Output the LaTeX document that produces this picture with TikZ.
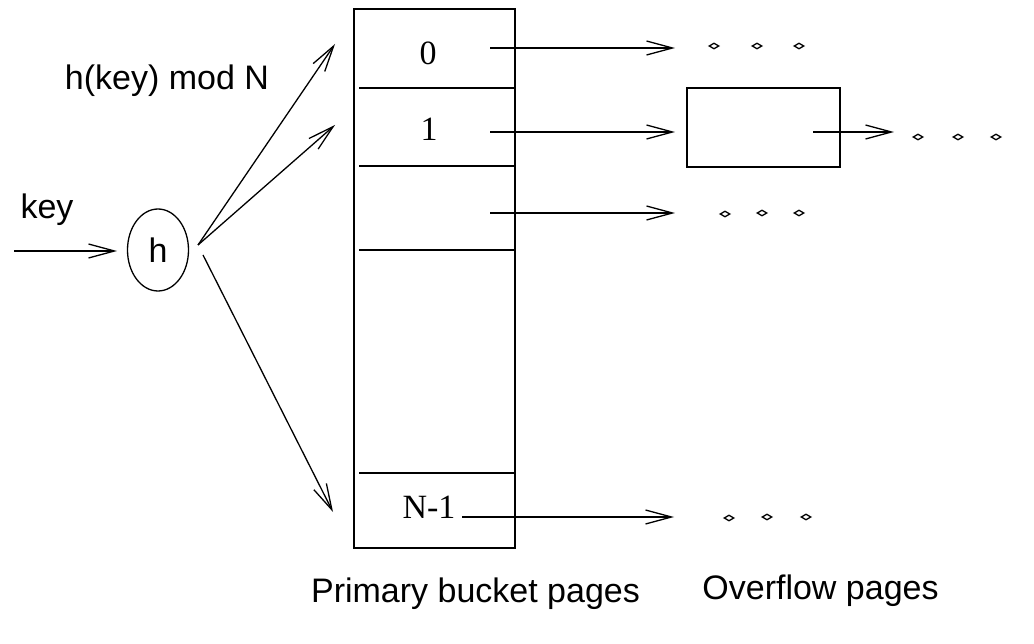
\documentclass[tikz,border=0pt]{standalone}
\usepackage{fontspec}
\setmainfont{Liberation Serif}
\newfontfamily\arialf{Liberation Sans}
\usetikzlibrary{arrows.meta,shapes.geometric}
\tikzset{
  ln/.style={line width=1.3pt},
  arr/.style={ln,-{Straight Barb[length=26pt,width=14pt,line width=1.3pt]}},
  sanslbl/.style={font=\arialf\fontsize{34}{38}\selectfont,inner sep=0pt},
  seriflbl/.style={font=\fontsize{34}{38}\selectfont,inner sep=0pt},
  dotd/.style={diamond,draw,line width=1.3pt,inner sep=0pt,minimum width=10pt,minimum height=6pt},
  pagebox/.style={draw,ln,inner sep=0pt}
}
\begin{document}
\begin{tikzpicture}[x=1pt,y=-1pt]
\useasboundingbox (0,0) rectangle (1034,644);
% primary bucket pages column
\node[pagebox,minimum width=161pt,minimum height=539pt] (col) at (434.5,278.5) {};
\coordinate (d1l) at (359,88);  \coordinate (d1r) at (515,88);
\coordinate (d2l) at (359,166); \coordinate (d2r) at (515,166);
\coordinate (d3l) at (359,250); \coordinate (d3r) at (515,250);
\coordinate (d4l) at (359,473); \coordinate (d4r) at (515,473);
\draw[ln] (d1l) -- (d1r);
\draw[ln] (d2l) -- (d2r);
\draw[ln] (d3l) -- (d3r);
\draw[ln] (d4l) -- (d4r);
\node[seriflbl] (b0) at (428,53) {0};
\node[seriflbl] (b1) at (429,129) {1};
\node[seriflbl] (bn) at (429,507) {N-1};
% overflow page
\node[pagebox,minimum width=153pt,minimum height=79pt] (ov) at (763.5,127.5) {};
% hash function
\node[ellipse,draw,ln,minimum width=61pt,minimum height=82pt,inner sep=0pt] (h) at (158,250) {};
\node[sanslbl] (hl) at (158,250) {h};
\node[sanslbl] (keyl) at (47,210) {key};
\node[sanslbl] (hmod) at (167,81) {h(key) mod N};
\node[sanslbl] (prim) at (475.5,594) {Primary bucket pages};
\node[sanslbl] (ovl) at (820.5,591) {Overflow pages};
% key arrow
\coordinate (kin) at (14,251);
\coordinate (hin) at (117,251);
\draw[arr] (kin) -- (hin);
% hash arrows
\coordinate (hs1) at (198,245);
\coordinate (hs2) at (203,255);
\coordinate (t0) at (335,44);
\coordinate (t1) at (335,125);
\coordinate (tn) at (333,512);
\draw[arr] (hs1) -- (t0);
\draw[arr] (hs1) -- (t1);
\draw[arr] (hs2) -- (tn);
% bucket pointers
\coordinate (p0s) at (490,48);  \coordinate (p0e) at (675,48);
\coordinate (p1s) at (490,132); \coordinate (p1e) at (675,132);
\coordinate (p2s) at (490,213); \coordinate (p2e) at (675,213);
\coordinate (pns) at (462,517); \coordinate (pne) at (674,517);
\coordinate (ps) at (813,132);  \coordinate (pe) at (894,132);
\draw[arr] (p0s) -- (p0e);
\draw[arr] (p1s) -- (p1e);
\draw[arr] (p2s) -- (p2e);
\draw[arr] (pns) -- (pne);
\draw[arr] (ps) -- (pe);
% dots
\node[dotd] (a1) at (714,46) {};
\node[dotd] (a2) at (757,46) {};
\node[dotd] (a3) at (799,46) {};
\node[dotd] (c1) at (918,137) {};
\node[dotd] (c2) at (958,137) {};
\node[dotd] (c3) at (996,137) {};
\node[dotd] (e1) at (725,214) {};
\node[dotd] (e2) at (762,213) {};
\node[dotd] (e3) at (799,213) {};
\node[dotd] (f1) at (729,518) {};
\node[dotd] (f2) at (767,517) {};
\node[dotd] (f3) at (806,517) {};
\end{tikzpicture}
\end{document}
